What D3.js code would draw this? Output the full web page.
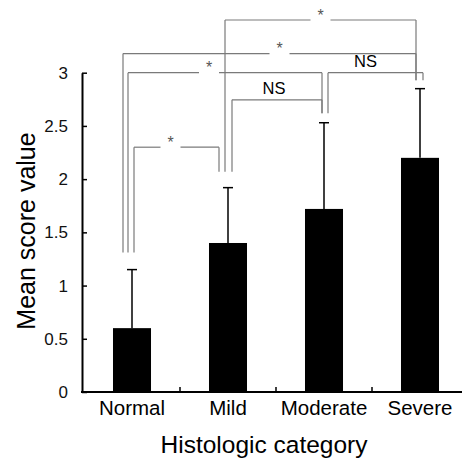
<!DOCTYPE html>
<html>
<head>
<meta charset="utf-8">
<script src="https://cdn.jsdelivr.net/npm/d3@7"></script>
<style>
  body { margin: 0; background: #fff; }
  text { font-family: "Liberation Sans", Arial, sans-serif; }
</style>
</head>
<body>
<svg id="chart" width="464" height="459"></svg>
<script>
// values
const categories = ["Normal", "Mild", "Moderate", "Severe"]
const means = [0.6, 1.4, 1.72, 2.2]
const upperErr = [1.15, 1.92, 2.53, 2.85]
const yTicks = [0, 0.5, 1, 1.5, 2, 2.5, 3]
// where the bracket legs stop above each bar
const bracketFoot = [1.31, 2.07, 2.62, 2.93]
// significance brackets: from / to category, level in score units, label
const brackets = [
    { a: 0, b: 1, level: 2.30, label: "*", da: 2, db: -9, shift: -6 },
    { a: 0, b: 2, level: 3.00, label: "*", da: -4, db: -2, shift: -16 },
    { a: 0, b: 3, level: 3.18, label: "*", da: -9, db: -4, shift: 10 },
    { a: 1, b: 3, level: 3.495, label: "*", da: -3, db: -4, shift: 0 },
    { a: 1, b: 2, level: 2.745, label: "NS", da: 4, db: -2, shift: -3 },
    { a: 2, b: 3, level: 3.00, label: "NS", da: 4, db: 3, shift: -10 }
]

const svg = d3.select("#chart")
const left = 82, bottom = 392

const x = d3.scaleBand().domain(categories).range([84, 468]).paddingInner(0.604).paddingOuter(0.302)
const y = d3.scaleLinear().domain([0, 3]).range([bottom, 72.7])
const cx = i => x(categories[i]) + x.bandwidth() / 2

// bars
svg.selectAll("rect.bar").data(means).join("rect")
    .attr("class", "bar")
    .attr("x", (d, i) => x(categories[i]))
    .attr("width", x.bandwidth())
    .attr("y", d => y(d))
    .attr("height", d => bottom - y(d))
    .attr("fill", "#000")

// error bars (upper only)
const err = svg.append("g").attr("stroke", "#000").attr("stroke-width", 1.5)
err.selectAll("line.v").data(upperErr).join("line")
    .attr("x1", (d, i) => cx(i)).attr("x2", (d, i) => cx(i))
    .attr("y1", (d, i) => y(means[i])).attr("y2", d => y(d))
err.selectAll("line.cap").data(upperErr).join("line")
    .attr("x1", (d, i) => cx(i) - 5).attr("x2", (d, i) => cx(i) + 5)
    .attr("y1", d => y(d)).attr("y2", d => y(d))

// y axis
const yAxis = svg.append("g")
    .attr("transform", "translate(" + left + ",0)")
    .call(d3.axisLeft(y).tickValues(yTicks).tickFormat(d3.format("~g"))
        .tickSizeInner(-5).tickSizeOuter(0).tickPadding(14))
yAxis.select(".domain").attr("stroke-width", 2)
yAxis.selectAll(".tick line").attr("stroke-width", 1.5)
yAxis.selectAll(".tick text").attr("font-size", 17).attr("fill", "#111")

// x axis
svg.append("line")
    .attr("x1", left - 1).attr("x2", 462)
    .attr("y1", bottom).attr("y2", bottom)
    .attr("stroke", "#000").attr("stroke-width", 2)
svg.selectAll("line.xtick").data(categories.slice(0, 3)).join("line")
    .attr("class", "xtick")
    .attr("x1", (d, i) => cx(i) + x.step() / 2).attr("x2", (d, i) => cx(i) + x.step() / 2)
    .attr("y1", bottom).attr("y2", bottom - 5)
    .attr("stroke", "#000").attr("stroke-width", 1.5)
svg.selectAll("text.cat").data(categories).join("text")
    .attr("class", "cat")
    .attr("x", (d, i) => cx(i)).attr("y", 415)
    .attr("text-anchor", "middle").attr("font-size", 20.5)
    .text(d => d)

// axis titles
svg.append("text")
    .attr("x", 264).attr("y", 453)
    .attr("text-anchor", "middle").attr("font-size", 24.5)
    .text("Histologic category")
svg.append("text")
    .attr("transform", "translate(35,231) rotate(-90)")
    .attr("text-anchor", "middle").attr("font-size", 25)
    .text("Mean score value")

// significance brackets
const br = svg.append("g").attr("stroke", "#7a7a7a").attr("stroke-width", 1.2).attr("fill", "none")
brackets.forEach(b => {
    var xa = cx(b.a) + b.da, xb = cx(b.b) + b.db, yy = y(b.level)
    var mid = (xa + xb) / 2 + b.shift
    br.append("line").attr("x1", xa).attr("x2", xa).attr("y1", yy).attr("y2", y(bracketFoot[b.a]))
    br.append("line").attr("x1", xb).attr("x2", xb).attr("y1", yy).attr("y2", y(bracketFoot[b.b]))
    if (b.label == "*") {
        br.append("line").attr("x1", xa).attr("x2", mid - 10).attr("y1", yy).attr("y2", yy)
        br.append("line").attr("x1", mid + 10).attr("x2", xb).attr("y1", yy).attr("y2", yy)
        svg.append("text").attr("x", mid).attr("y", yy + 0.5)
            .attr("text-anchor", "middle").attr("font-size", 16).attr("fill", "#555")
            .text("*")
    } else {
        br.append("line").attr("x1", xa).attr("x2", xb).attr("y1", yy).attr("y2", yy)
        svg.append("text").attr("x", mid).attr("y", yy - 6)
            .attr("text-anchor", "middle").attr("font-size", 16.5).attr("fill", "#000")
            .text(b.label)
    }
})
</script>
</body>
</html>
